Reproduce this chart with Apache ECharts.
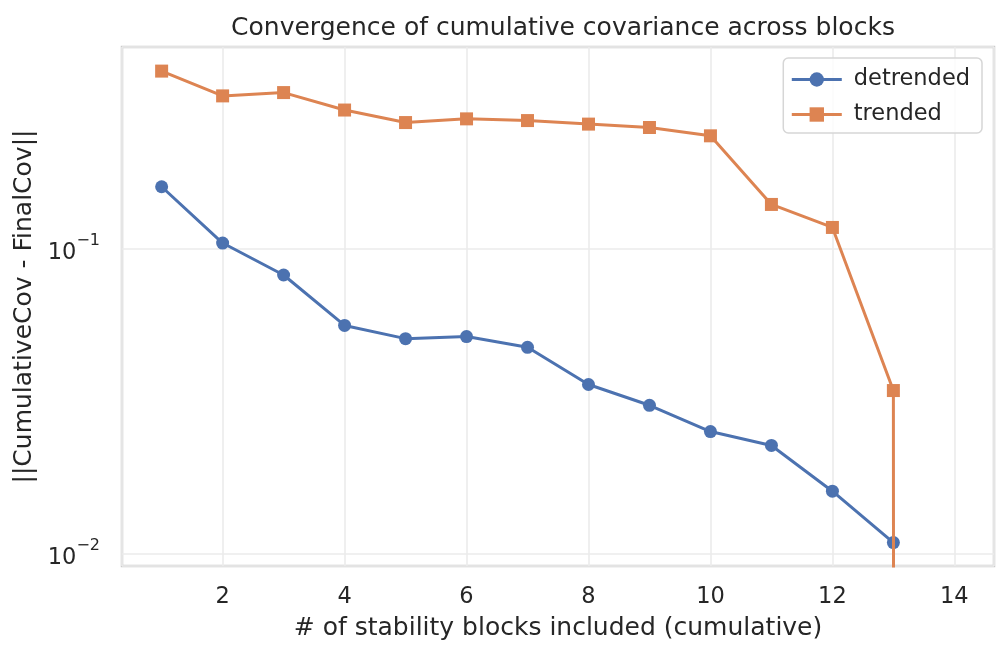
<!DOCTYPE html>
<html>
<head>
<meta charset="utf-8">
<style>
  html, body { margin: 0; padding: 0; background: #ffffff; }
  #chart { width: 1008px; height: 656px; }
</style>
<script src="https://cdn.jsdelivr.net/npm/echarts@6/dist/echarts.min.js"></script>
</head>
<body>
<div id="chart"></div>
<script>
// values (log scale)
const blocks = [1, 2, 3, 4, 5, 6, 7, 8, 9, 10, 11, 12, 13, 14];
const detrended = [0.1592, 0.1041, 0.0818, 0.0559, 0.0506, 0.0514, 0.0474, 0.0358, 0.0306, 0.0251, 0.0226, 0.0160, 0.01086];
const trended = [0.381, 0.316, 0.324, 0.284, 0.2584, 0.2657, 0.2623, 0.2554, 0.2489, 0.2338, 0.1393, 0.1171, 0.0342, 0];

const FONT = "DejaVu Sans";
const TEXT = "#262626";
// log axis can't show 0, so clip it to a tiny value like matplotlib does
const LOG_FLOOR = 1e-300;

function pairs(values) {
  return values.map((v, i) => [blocks[i], v > 0 ? v : LOG_FLOOR]);
}

function logLabel(value) {
  const exp = Math.round(Math.log10(value));
  return `{base|10}{sup|${exp < 0 ? "\u2212" : ""}${Math.abs(exp)}}`;
}

const chart = echarts.init(document.querySelector("#chart"), null, { renderer: "canvas" });

chart.setOption({
  animation: false,
  backgroundColor: "#ffffff",
  textStyle: { fontFamily: FONT },
  title: {
    text: "Convergence of cumulative covariance across blocks",
    left: 558,
    top: 11,
    textAlign: "center",
    textStyle: { fontFamily: FONT, fontSize: 25, fontWeight: "normal", color: TEXT },
  },
  legend: {
    data: ["detrended", "trended"],
    orient: "vertical",
    right: 26,
    top: 58,
    itemWidth: 50,
    itemHeight: 18,
    itemGap: 12,
    padding: [10, 12, 7, 7],
    borderColor: "#d6d6d6",
    borderWidth: 1.5,
    borderRadius: 5,
    backgroundColor: "rgba(255,255,255,0.8)",
    lineStyle: { width: 3 },
    textStyle: { fontFamily: FONT, fontSize: 22.5, color: TEXT, padding: [0, 0, 0, 7] },
  },
  grid: {
    left: 122,
    right: 14,
    top: 47,
    bottom: 90,
    show: true,
    borderColor: "#cccccc",
    borderWidth: 2.5,
    backgroundColor: "#ffffff",
  },
  xAxis: {
    type: "value",
    min: 0.35,
    max: 14.65,
    splitNumber: 7,
    name: "# of stability blocks included (cumulative)",
    nameLocation: "middle",
    nameGap: 50,
    nameTextStyle: { fontFamily: FONT, fontSize: 25, color: TEXT },
    axisLine: { show: false },
    axisTick: { show: false },
    axisLabel: {
      showMinLabel: false,
      showMaxLabel: false,
      margin: 20,
      fontFamily: FONT,
      fontSize: 22.5,
      color: TEXT,
    },
    splitLine: { show: true, lineStyle: { color: "#ebebeb", width: 1.6 } },
  },
  yAxis: {
    type: "log",
    logBase: 10,
    min: 0.0091,
    max: 0.457,
    name: "||CumulativeCov - FinalCov||",
    nameLocation: "middle",
    nameGap: 78,
    nameTextStyle: { fontFamily: FONT, fontSize: 25, color: TEXT },
    axisLine: { show: false },
    axisTick: { show: false },
    minorTick: { show: false },
    axisLabel: {
      showMinLabel: false,
      showMaxLabel: false,
      margin: 22,
      formatter: logLabel,
      rich: {
        base: { fontFamily: FONT, fontSize: 22.5, color: TEXT, lineHeight: 32, verticalAlign: "bottom" },
        sup: { fontFamily: FONT, fontSize: 16, color: TEXT, lineHeight: 32, verticalAlign: "top" },
      },
    },
    splitLine: { show: true, lineStyle: { color: "#ebebeb", width: 1.6 } },
  },
  series: [
    {
      name: "detrended",
      type: "line",
      data: pairs(detrended),
      symbol: "circle",
      symbolSize: 13,
      showAllSymbol: true,
      clip: true,
      lineStyle: { color: "#4c72b0", width: 3 },
      itemStyle: { color: "#4c72b0" },
      z: 3,
    },
    {
      name: "trended",
      type: "line",
      data: pairs(trended),
      symbol: "rect",
      symbolSize: 13,
      showAllSymbol: true,
      clip: true,
      lineStyle: { color: "#dd8452", width: 3 },
      itemStyle: { color: "#dd8452" },
      z: 4,
    },
  ],
});
</script>
</body>
</html>
